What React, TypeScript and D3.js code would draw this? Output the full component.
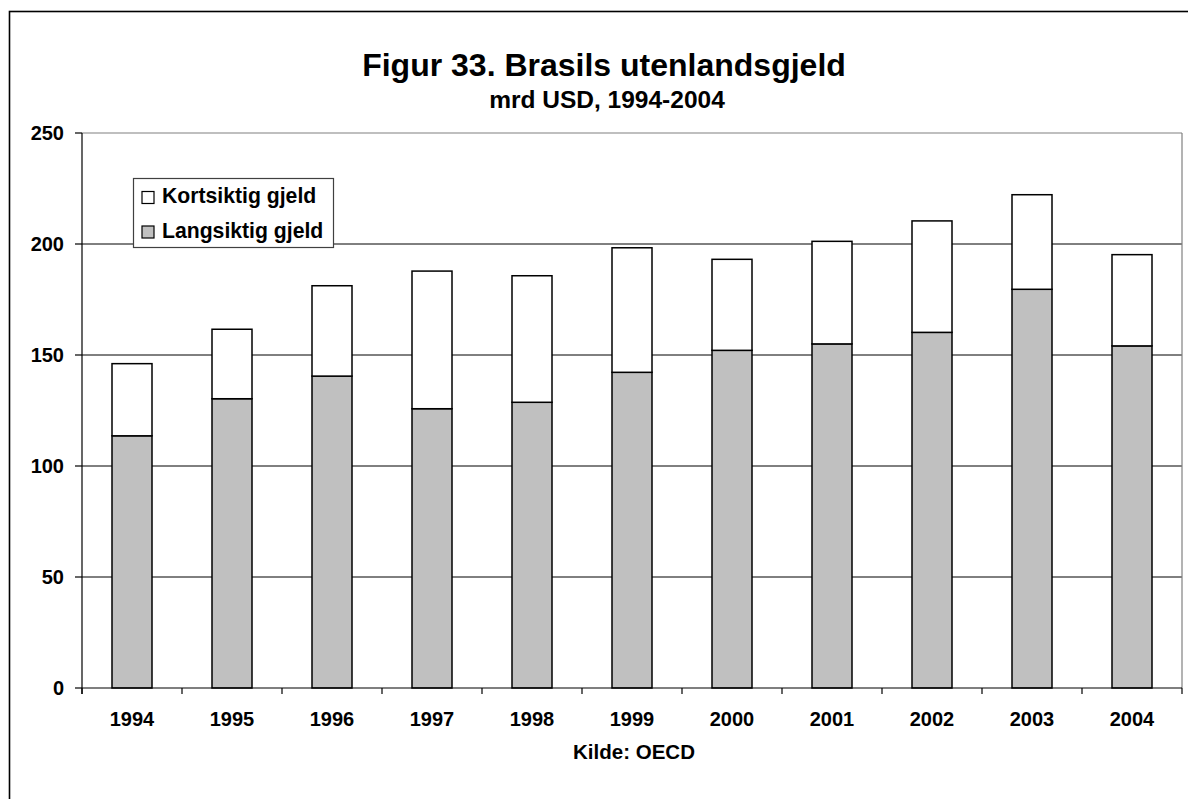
import React from "react";
import * as d3 from "d3";

const years = ["1994","1995","1996","1997","1998","1999","2000","2001","2002","2003","2004"];
const langsiktig = [113.6,130.3,140.5,125.8,128.7,142.2,152.1,155.0,160.2,179.6,154.1];
const kortsiktig = [32.5,31.3,40.7,62.0,57.0,56.1,41.0,46.2,50.2,42.6,41.1];
const yTicks = [0,50,100,150,200,250];
const seriesNames = ["Kortsiktig gjeld","Langsiktig gjeld"];
const title = "Figur 33. Brasils utenlandsgjeld";
const subtitle = "mrd USD, 1994-2004";
const source = "Kilde: OECD";

const W = 1188, H = 799;
const FONT = "'Liberation Sans', Arial, Helvetica, sans-serif";

export default function App() {
  const left = 82, right = 1182, top = 133, bottom = 688;
  const x = d3.scaleBand<string>().domain(years).range([left, right]).paddingInner(0.6).paddingOuter(0.3);
  const xb = d3.scaleBand<string>().domain(years).range([left, right]).padding(0);
  const y = d3.scaleLinear().domain([0, 250]).range([bottom, top]);

  const stack = years.map((yr, i) => ({ yr, l: langsiktig[i], k: kortsiktig[i] }));

  return (
    <svg width={W} height={H} style={{ position: "absolute", left: 0, top: 0, background: "#fff" }} fontFamily={FONT}>
      <rect x={0} y={0} width={W} height={H} fill="#fff" />
      <rect x={9.5} y={11.5} width={W + 20} height={H + 20} fill="none" stroke="#000" strokeWidth={1.6} />
      <text x={604} y={76} textAnchor="middle" fontWeight="bold" fontSize={32}>{title}</text>
      <text x={607} y={108} textAnchor="middle" fontWeight="bold" fontSize={24.5}>{subtitle}</text>

      {/* gridlines */}
      {yTicks.filter(t => t > 0 && t < 250).map(t => (
        <line key={t} x1={left} x2={right} y1={y(t)} y2={y(t)} stroke="#000" strokeWidth={1} />
      ))}
      {/* plot area border */}
      <line x1={left} x2={right} y1={y(250)} y2={y(250)} stroke="#808080" strokeWidth={1.2} />
      <line x1={right} x2={right} y1={top} y2={bottom} stroke="#808080" strokeWidth={1.2} />

      {/* bars */}
      {stack.map(d => (
        <g key={d.yr}>
          <rect x={x(d.yr)} y={y(d.l)} width={x.bandwidth()} height={y(0) - y(d.l)} fill="#c0c0c0" stroke="#000" strokeWidth={1.5} />
          <rect x={x(d.yr)} y={y(d.l + d.k)} width={x.bandwidth()} height={y(d.l) - y(d.l + d.k)} fill="#fff" stroke="#000" strokeWidth={1.5} />
        </g>
      ))}

      {/* y axis */}
      <line x1={left} x2={left} y1={top} y2={bottom + 6} stroke="#000" strokeWidth={1.2} />
      {yTicks.map(t => (
        <g key={t}>
          <line x1={left - 7} x2={left} y1={y(t)} y2={y(t)} stroke="#000" strokeWidth={1.2} />
          <text x={64} y={y(t) + 7} textAnchor="end" fontWeight="bold" fontSize={20}>{t}</text>
        </g>
      ))}

      {/* x axis */}
      <line x1={left} x2={right} y1={bottom} y2={bottom} stroke="#000" strokeWidth={1.2} />
      {years.map(yr => (
        <line key={"t" + yr} x1={xb(yr)} x2={xb(yr)} y1={bottom} y2={bottom + 6} stroke="#000" strokeWidth={1.2} />
      ))}
      <line x1={right} x2={right} y1={bottom} y2={bottom + 6} stroke="#000" strokeWidth={1.2} />
      {years.map(yr => (
        <text key={"l" + yr} x={(xb(yr) as number) + xb.bandwidth() / 2} y={726} textAnchor="middle" fontWeight="bold" fontSize={20}>{yr}</text>
      ))}
      <text x={634} y={759} textAnchor="middle" fontWeight="bold" fontSize={20.5}>{source}</text>

      {/* legend */}
      <rect x={133.5} y={178.5} width={200} height={69} fill="#fff" stroke="#404040" strokeWidth={1.2} />
      <rect x={142} y={191.5} width={12} height={12} fill="#fff" stroke="#000" strokeWidth={1.2} />
      <text x={162} y={203} fontWeight="bold" fontSize={21.2}>{seriesNames[0]}</text>
      <rect x={142} y={226} width={12} height={12} fill="#c0c0c0" stroke="#000" strokeWidth={1.2} />
      <text x={162} y={238} fontWeight="bold" fontSize={21.2}>{seriesNames[1]}</text>
    </svg>
  );
}
